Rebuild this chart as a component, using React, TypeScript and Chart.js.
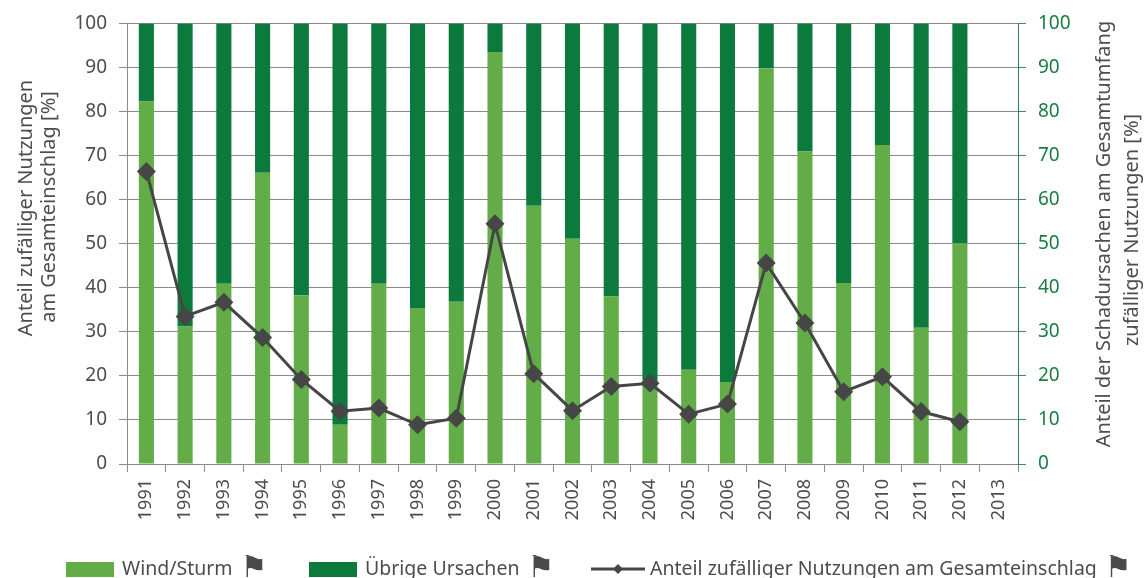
import React, { useEffect, useRef } from "react";
import { Chart, registerables } from "chart.js";

Chart.register(...registerables);

const years = ["1991","1992","1993","1994","1995","1996","1997","1998","1999","2000","2001","2002","2003","2004","2005","2006","2007","2008","2009","2010","2011","2012","2013"];
const windSturm = [82.3, 31.2, 40.9, 66.1, 38.3, 8.9, 40.9, 35.4, 36.8, 93.5, 58.6, 51.1, 38.0, 19.0, 21.4, 18.6, 89.8, 70.9, 41.1, 72.4, 30.9, 50.1, null];
const uebrige = [17.7, 68.8, 59.1, 33.9, 61.7, 91.1, 59.1, 64.6, 63.2, 6.5, 41.4, 48.9, 62.0, 81.0, 78.6, 81.4, 10.2, 29.1, 58.9, 27.6, 69.1, 49.9, null];
const anteil = [66.4, 33.5, 36.7, 28.7, 19.2, 12.0, 12.7, 8.9, 10.4, 54.5, 20.5, 12.1, 17.6, 18.3, 11.3, 13.6, 45.6, 32.0, 16.4, 19.8, 11.9, 9.6, null];

const leftTitle = ["Anteil zufälliger Nutzungen", "am Gesamteinschlag [%]"];
const rightTitle = ["Anteil der Schadursachen am Gesamtumfang", "zufälliger Nutzungen [%]"];
const legendLabels = ["Wind/Sturm", "Übrige Ursachen", "Anteil zufälliger Nutzungen am Gesamteinschlag"];

const FONT = "'Noto Sans', 'DejaVu Sans', sans-serif";
const LIGHT = "#62ad47";
const DARK = "#0c793d";
const LINE = "#464646";
const GRAY_TEXT = "#4d4d4d";
const GREEN_TEXT = "#1a7d43";
const GRID = "#8a8a8a";

const extrasPlugin = {
  id: "extras",
  afterDraw(chart: any) {
    const ctx = chart.ctx as CanvasRenderingContext2D;
    ctx.save();
    // axis titles
    ctx.fillStyle = GRAY_TEXT;
    ctx.font = `20px ${FONT}`;
    ctx.textAlign = "center";
    ctx.textBaseline = "middle";
    const drawRot = (text: string, x: number, y: number) => {
      ctx.save();
      ctx.translate(x, y);
      ctx.rotate(-Math.PI / 2);
      ctx.fillText(text, 0, 0);
      ctx.restore();
    };
    drawRot(leftTitle[0], 26, 208);
    drawRot(leftTitle[1], 49, 207);
    drawRot(rightTitle[0], 1104, 234);
    drawRot(rightTitle[1], 1132, 230);

    // legend
    const cy = 569;
    ctx.textAlign = "left";
    ctx.font = `19.5px ${FONT}`;
    const flag = (x: number) => {
      ctx.save();
      ctx.fillStyle = "#4a4a4a";
      ctx.font = `30px 'DejaVu Sans', sans-serif`;
      ctx.textBaseline = "middle";
      ctx.fillText("\u2691", x, cy);
      ctx.restore();
    };
    // item 1
    ctx.fillStyle = LIGHT;
    ctx.fillRect(66, 562, 48, 15);
    ctx.fillStyle = GRAY_TEXT;
    ctx.fillText(legendLabels[0], 122, cy);
    flag(122 + ctx.measureText(legendLabels[0]).width + 8);
    // item 2
    ctx.fillStyle = DARK;
    ctx.fillRect(309, 562, 48, 15);
    ctx.fillStyle = GRAY_TEXT;
    ctx.fillText(legendLabels[1], 365, cy);
    flag(365 + ctx.measureText(legendLabels[1]).width + 8);
    // item 3
    ctx.strokeStyle = LINE;
    ctx.lineWidth = 3;
    ctx.beginPath();
    ctx.moveTo(591, cy);
    ctx.lineTo(645, cy);
    ctx.stroke();
    ctx.fillStyle = LINE;
    ctx.beginPath();
    ctx.moveTo(618, cy - 5);
    ctx.lineTo(623, cy);
    ctx.lineTo(618, cy + 5);
    ctx.lineTo(613, cy);
    ctx.closePath();
    ctx.fill();
    ctx.fillStyle = GRAY_TEXT;
    ctx.fillText(legendLabels[2], 650, cy);
    flag(650 + ctx.measureText(legendLabels[2]).width + 8);
    ctx.restore();
  },
};

export default function App() {
  const ref = useRef<HTMLCanvasElement>(null);
  useEffect(() => {
    if (!ref.current) return;
    const chart = new Chart(ref.current, {
      type: "bar",
      data: {
        labels: years,
        datasets: [
          {
            type: "line",
            label: legendLabels[2],
            data: anteil,
            yAxisID: "y",
            borderColor: LINE,
            backgroundColor: LINE,
            borderWidth: 3,
            pointStyle: "rectRot",
            pointRadius: 9.5,
            pointBackgroundColor: LINE,
            pointBorderWidth: 0,
            order: 0,
            tension: 0,
          } as any,
          {
            label: legendLabels[0],
            data: windSturm,
            backgroundColor: LIGHT,
            yAxisID: "y2",
            stack: "s",
            order: 1,
            barPercentage: 0.39,
            categoryPercentage: 1,
          },
          {
            label: legendLabels[1],
            data: uebrige,
            backgroundColor: DARK,
            yAxisID: "y2",
            stack: "s",
            order: 1,
            barPercentage: 0.39,
            categoryPercentage: 1,
          },
        ],
      },
      options: {
        responsive: false,
        animation: false,
        devicePixelRatio: 1,
        layout: { padding: { top: 14, left: 0, right: 0, bottom: 0 } },
        plugins: { legend: { display: false }, tooltip: { enabled: false } },
        scales: {
          x: {
            stacked: true,
            offset: true,
            grid: { offset: true, drawOnChartArea: false, drawTicks: true, tickLength: 8, color: GRID },
            border: { color: GRID },
            ticks: {
              minRotation: 90,
              maxRotation: 90,
              autoSkip: false,
              color: GRAY_TEXT,
              font: { family: FONT, size: 18 },
              padding: 7,
            },
            afterFit: (s: any) => { s.height = 114; },
          },
          y: {
            position: "left",
            min: 0,
            max: 100,
            ticks: { stepSize: 10, color: GRAY_TEXT, font: { family: FONT, size: 19 }, padding: 12 },
            grid: { color: GRID, tickLength: 8 },
            border: { color: GRID },
            afterFit: (s: any) => { s.width = 127; },
          },
          y2: {
            position: "right",
            stacked: true,
            min: 0,
            max: 100,
            ticks: { stepSize: 10, color: GREEN_TEXT, font: { family: FONT, size: 19 }, padding: 12 },
            grid: { drawOnChartArea: false, color: "#3f8a5c", tickLength: 8 },
            border: { color: "#2f7f4f" },
            afterFit: (s: any) => { s.width = 127; },
          },
        },
      } as any,
      plugins: [extrasPlugin],
    });
    return () => chart.destroy();
  }, []);
  return (
    <div style={{ position: "absolute", left: 0, top: 0, width: 1145, height: 578 }}>
      <canvas ref={ref} width={1145} height={578} style={{ width: 1145, height: 578 }} />
    </div>
  );
}
